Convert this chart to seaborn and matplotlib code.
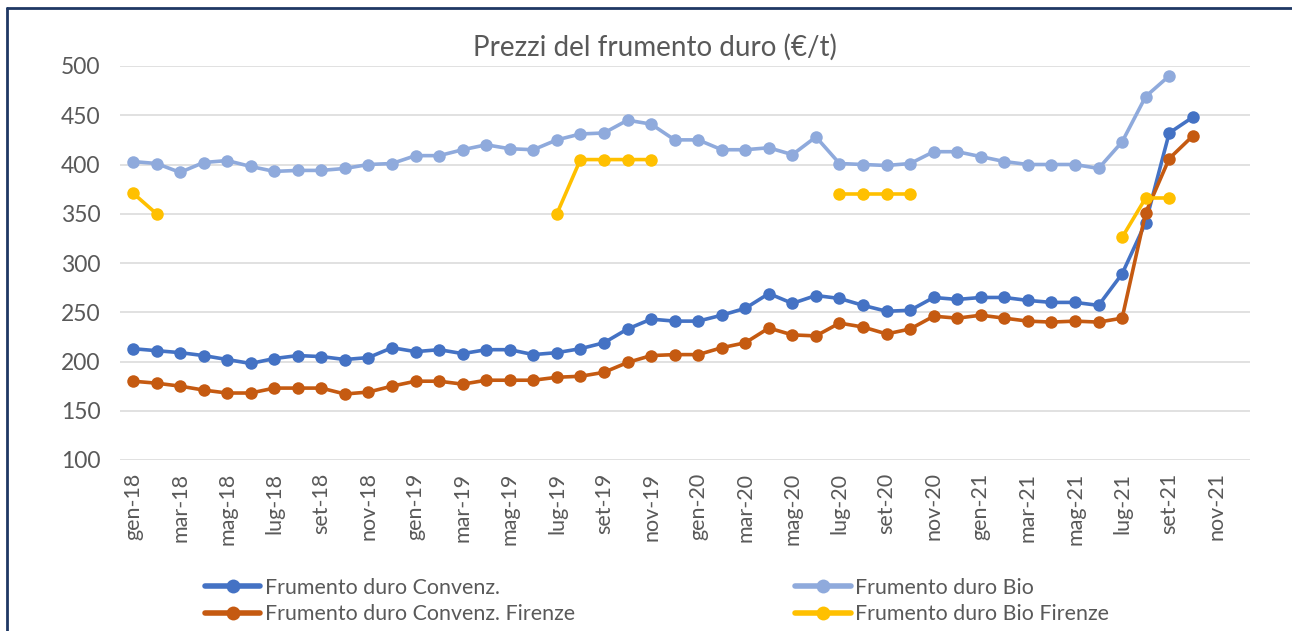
"""Prezzi del frumento duro (EUR/t), monthly gen-18 .. ott-21."""
import numpy as np
import pandas as pd
import seaborn as sns
import matplotlib.pyplot as plt
from matplotlib.lines import Line2D

nan = np.nan

months_it = ['gen', 'feb', 'mar', 'apr', 'mag', 'giu',
             'lug', 'ago', 'set', 'ott', 'nov', 'dic']
years = ['18', '19', '20', '21']

# values, one per month from gen-18 to ott-21
conv = [213, 211, 209, 206, 202, 198, 203, 206, 205, 202, 204, 214,
        210, 212, 208, 212, 212, 207, 209, 213, 219, 233, 243, 241,
        241, 247, 254, 269, 259, 267, 264, 257, 251, 252, 265, 263,
        265, 265, 262, 260, 260, 257, 289, 341, 432, 448]
bio = [403, 401, 392, 402, 404, 398, 393, 394, 394, 396, 400, 401,
       409, 409, 415, 420, 416, 415, 425, 431, 432, 445, 441, 425,
       425, 415, 415, 417, 410, 428, 401, 400, 399, 401, 413, 413,
       408, 403, 400, 400, 400, 396, 423, 469, 490, nan]
conv_fi = [180, 178, 175, 171, 168, 168, 173, 173, 173, 167, 169, 175,
           180, 180, 177, 181, 181, 181, 184, 185, 189, 199, 206, 207,
           207, 214, 219, 234, 227, 226, 239, 235, 228, 233, 246, 244,
           247, 244, 241, 240, 241, 240, 244, 351, 406, 429]
bio_fi = [371, 350, nan, nan, nan, nan, nan, nan, nan, nan, nan, nan,
          nan, nan, nan, nan, nan, nan, 350, 405, 405, 405, 405, nan,
          nan, nan, nan, nan, nan, nan, 370, 370, 370, 370, nan, nan,
          nan, nan, nan, nan, nan, nan, 326, 366, 366, nan]

series_names = ['Frumento duro Convenz.', 'Frumento duro Bio',
                'Frumento duro Convenz. Firenze', 'Frumento duro Bio Firenze']
colors = ['#4472C4', '#8FAADC', '#C55A11', '#FFC000']

# all month labels (ticks shown every 2 months, up to nov-21)
tick_months = [f'{m}-{y}' for y in years for m in months_it][:47:2]

rows = []
for name, vals in zip(series_names, [conv, bio, conv_fi, bio_fi]):
    seg = 0
    prev_nan = True
    for i, v in enumerate(vals):
        if np.isnan(v):
            prev_nan = True
            continue
        if prev_nan:
            seg += 1
            prev_nan = False
        rows.append({'month': i, 'price': v, 'series': name,
                     'segment': f'{name}_{seg}'})
df = pd.DataFrame(rows)

sns.set_theme(style='white')
plt.rcParams['font.family'] = ['Lato', 'DejaVu Sans']

fig = plt.figure(figsize=(12.92, 6.31), dpi=100)
ax = fig.add_axes([120 / 1292, 1 - 460 / 631, 1130 / 1292, 394 / 631])

sns.lineplot(data=df, x='month', y='price', hue='series', units='segment',
             estimator=None, hue_order=series_names, palette=colors,
             marker='o', markersize=9, markeredgewidth=0, linewidth=2.6,
             legend=False, ax=ax, clip_on=False, zorder=3)

ax.set_xlim(-0.55, 47.43)
ax.set_ylim(100, 500)
ax.set_yticks(range(100, 501, 50))
ax.set_xticks(range(0, 47, 2))
ax.set_xticklabels(tick_months, rotation=90)
ax.set_xlabel('')
ax.set_ylabel('')
ax.grid(axis='y', color='#D9D9D9', linewidth=1.1)
ax.set_axisbelow(True)
for s in ax.spines.values():
    s.set_visible(False)
ax.tick_params(axis='both', length=0, labelcolor='#595959')
ax.tick_params(axis='y', pad=14, labelsize=16.5)
ax.tick_params(axis='x', pad=9, labelsize=15.5)

fig.text(0.507, 1 - 47 / 631, 'Prezzi del frumento duro (€/t)',
         ha='center', va='center', fontsize=20, color='#595959')

handles = [Line2D([], [], color=c, linewidth=4, marker='o', markersize=10,
                  markeredgewidth=0) for c in colors]
order = [0, 2, 1, 3]
fig.legend([handles[i] for i in order], [series_names[i] for i in order],
           ncol=2, loc='center left', bbox_to_anchor=(194 / 1292, 1 - 601 / 631),
           frameon=False, fontsize=15.4, labelcolor='#595959',
           handlelength=2.6, handletextpad=0.2, columnspacing=10.3,
           labelspacing=0.3, borderpad=0)

# chart frame (left and top edges visible)
fig.add_artist(Line2D([7 / 1292, 7 / 1292], [0, 1 - 8 / 631],
                      color='#1F3864', linewidth=2, transform=fig.transFigure))
fig.add_artist(Line2D([7 / 1292, 1], [1 - 8 / 631, 1 - 8 / 631],
                      color='#1F3864', linewidth=2, transform=fig.transFigure))

fig.savefig('out.png', dpi=100, facecolor='white')
